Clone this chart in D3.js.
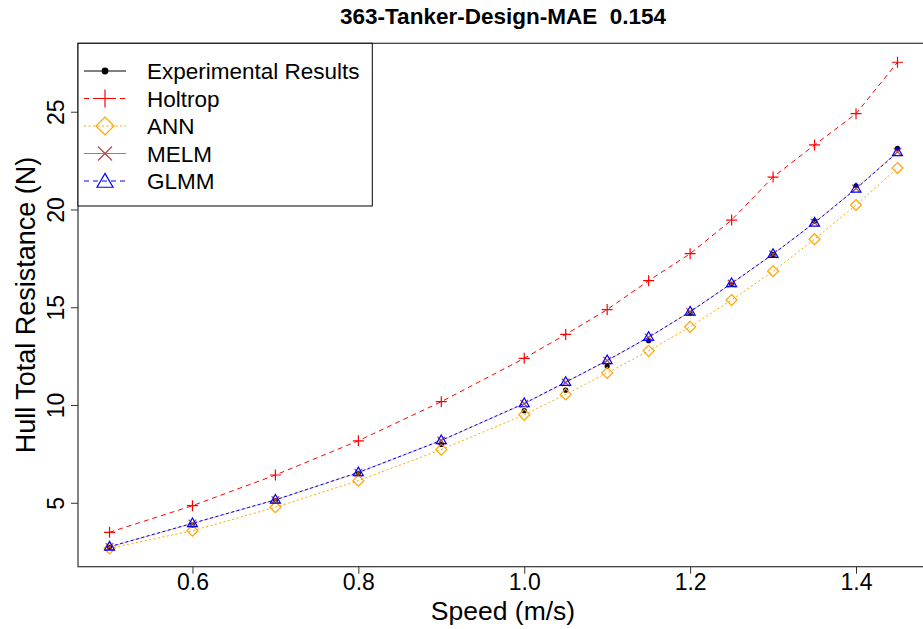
<!DOCTYPE html>
<html>
<head>
<meta charset="utf-8">
<script src="https://cdn.jsdelivr.net/npm/d3@7"></script>
<style>
  html, body { margin: 0; padding: 0; background: #fff; }
  svg { display: block; }
  text { font-family: "Liberation Sans", Arial, sans-serif; fill: #000; }
</style>
</head>
<body>
<svg id="chart" width="923" height="629"></svg>
<script>
const title = "363-Tanker-Design-MAE  0.154";
const xLabel = "Speed (m/s)";
const yLabel = "Hull Total Resistance (N)";

const speed = [0.5, 0.6, 0.7, 0.8, 0.9, 1.0, 1.05, 1.1, 1.15, 1.2, 1.25, 1.3, 1.35, 1.4, 1.45];
const experimental = [2.72, 3.86, 5.10, 6.50, 7.98, 9.71, 10.76, 11.99, 13.29, 14.69, 16.17, 17.70, 19.40, 21.21, 23.13];
const holtrop = [3.49, 4.85, 6.42, 8.17, 10.17, 12.39, 13.61, 14.88, 16.36, 17.74, 19.46, 21.66, 23.30, 24.90, 27.53];
const ann = [2.67, 3.57, 4.77, 6.13, 7.72, 9.50, 10.54, 11.64, 12.77, 14.00, 15.37, 16.84, 18.48, 20.23, 22.12];
const melm = [2.74, 3.94, 5.14, 6.54, 8.18, 10.06, 11.15, 12.27, 13.46, 14.76, 16.21, 17.71, 19.33, 21.08, 22.95];
const glmm = [2.75, 3.95, 5.15, 6.55, 8.19, 10.08, 11.17, 12.28, 13.47, 14.77, 16.22, 17.72, 19.32, 21.06, 22.92];

const xTicks = [0.6, 0.8, 1.0, 1.2, 1.4];
const yTicks = [5, 10, 15, 20, 25];
const seriesNames = ["Experimental Results", "Holtrop", "ANN", "MELM", "GLMM"];

const svg = d3.select("#chart");
const L = 78, T = 43.3, B = 566.7, R = 929;

const x = d3.scaleLinear().domain([0.462, 1.488]).range([L, R]);
const y = d3.scaleLinear().domain([1.73, 28.5]).range([B, T]);

// title
svg.append("text").attr("x", 503).attr("y", 24).attr("text-anchor", "middle")
  .attr("xml:space", "preserve").style("white-space", "pre")
  .style("font-size", "22.5px").style("font-weight", "bold").text(title);

// axes
const xAxis = d3.axisBottom(x).tickValues(xTicks).tickFormat(d3.format(".1f")).tickSize(7).tickPadding(0);
const gx = svg.append("g").attr("transform", `translate(0,${B})`).call(xAxis);
gx.select(".domain").remove();
gx.selectAll(".tick line").attr("stroke", "#333");
gx.selectAll(".tick text").style("font-size", "23px").style("font-family", "'Liberation Sans', Arial, sans-serif").attr("fill", "#000");

const yAxis = d3.axisLeft(y).tickValues(yTicks).tickSize(7).tickPadding(0);
const gy = svg.append("g").attr("transform", `translate(${L},0)`).call(yAxis);
gy.select(".domain").remove();
gy.selectAll(".tick line").attr("stroke", "#333");
gy.selectAll(".tick text")
  .style("font-size", "23px").style("font-family", "'Liberation Sans', Arial, sans-serif").attr("fill", "#000")
  .attr("x", null).attr("dy", null)
  .attr("text-anchor", "middle")
  .attr("transform", "translate(-14,0) rotate(-90)");

// axis titles
svg.append("text").attr("x", 503).attr("y", 620).attr("text-anchor", "middle")
  .style("font-size", "26.5px").text(xLabel);
svg.append("text").attr("transform", `translate(35,${(T + B) / 2}) rotate(-90)`).attr("text-anchor", "middle")
  .style("font-size", "27px").text(yLabel);

// plot box
svg.append("rect").attr("x", L).attr("y", T).attr("width", R - L).attr("height", B - T)
  .attr("fill", "none").attr("stroke", "#333").attr("stroke-width", 1.2);

const pts = arr => speed.map((s, i) => [s, arr[i]]);
const line = d3.line().x(d => x(d[0])).y(d => y(d[1]));

// marker helpers
function plus(g, cx, cy, h, color, w) {
  g.append("path").attr("d", `M${cx - h},${cy}H${cx + h}M${cx},${cy - h}V${cy + h}`)
    .attr("stroke", color).attr("stroke-width", w || 1.2).attr("fill", "none");
}
function cross(g, cx, cy, h, color, w) {
  g.append("path").attr("d", `M${cx - h},${cy - h}L${cx + h},${cy + h}M${cx - h},${cy + h}L${cx + h},${cy - h}`)
    .attr("stroke", color).attr("stroke-width", w || 1.2).attr("fill", "none");
}
function diamond(g, cx, cy, h, color, w) {
  g.append("path").attr("d", `M${cx},${cy - h}L${cx + h},${cy}L${cx},${cy + h}L${cx - h},${cy}Z`)
    .attr("stroke", color).attr("stroke-width", w || 1.2).attr("fill", "none");
}
function triangle(g, cx, cy, s, color, w) {
  const hgt = s * 0.866;
  g.append("path").attr("d", `M${cx},${cy - hgt * 0.62}L${cx + s / 2},${cy + hgt * 0.38}L${cx - s / 2},${cy + hgt * 0.38}Z`)
    .attr("stroke", color).attr("stroke-width", w || 1.2).attr("fill", "none");
}
function dot(g, cx, cy, r, color) {
  g.append("circle").attr("cx", cx).attr("cy", cy).attr("r", r).attr("fill", color);
}

const cRed = "#ff0000", cOrange = "#ffa500", cBrown = "#b04a4a", cBlue = "#0000ff";

const plot = svg.append("g");
// lines
plot.append("path").datum(pts(holtrop)).attr("d", line).attr("fill", "none")
  .attr("stroke", cRed).attr("stroke-width", 1).attr("stroke-dasharray", "5,4");
plot.append("path").datum(pts(ann)).attr("d", line).attr("fill", "none")
  .attr("stroke", cOrange).attr("stroke-width", 1).attr("stroke-dasharray", "2,2.5");
plot.append("path").datum(pts(melm)).attr("d", line).attr("fill", "none")
  .attr("stroke", cBrown).attr("stroke-width", 1).attr("stroke-opacity", 0.4);
plot.append("path").datum(pts(glmm)).attr("d", line).attr("fill", "none")
  .attr("stroke", cBlue).attr("stroke-width", 1).attr("stroke-dasharray", "3,2.5");

// markers
pts(experimental).forEach(d => dot(plot, x(d[0]), y(d[1]), 2.6, "#000"));
pts(holtrop).forEach(d => plus(plot, x(d[0]), y(d[1]), 5.5, cRed));
pts(ann).forEach(d => diamond(plot, x(d[0]), y(d[1]), 5.5, cOrange));
pts(melm).forEach(d => cross(plot, x(d[0]), y(d[1]), 3.8, cBrown));
pts(glmm).forEach(d => triangle(plot, x(d[0]), y(d[1]), 10, cBlue));

// legend
const leg = svg.append("g");
leg.append("rect").attr("x", L).attr("y", T).attr("width", 372.3 - L).attr("height", 206 - T)
  .attr("fill", "#fff").attr("stroke", "#000").attr("stroke-width", 1);
const rowY = [71, 98.5, 126, 153.5, 181];
const legStyles = [
  { color: "#000", dash: null, mark: (g, cx, cy) => dot(g, cx, cy, 3.4, "#000") },
  { color: cRed, dash: "5,4", mark: (g, cx, cy) => plus(g, cx, cy, 9, cRed) },
  { color: cOrange, dash: "2,2.5", mark: (g, cx, cy) => diamond(g, cx, cy, 9, cOrange) },
  { color: cBrown, dash: null, mark: (g, cx, cy) => cross(g, cx, cy, 7, cBrown) },
  { color: cBlue, dash: "5,4", mark: (g, cx, cy) => triangle(g, cx, cy + 1, 16, cBlue) }
];
seriesNames.forEach((name, i) => {
  const cy = rowY[i], st = legStyles[i];
  const ln = leg.append("line").attr("x1", 84).attr("x2", 126).attr("y1", cy).attr("y2", cy)
    .attr("stroke", st.color).attr("stroke-width", 1);
  if (st.dash) ln.attr("stroke-dasharray", st.dash);
  if (i === 3) ln.attr("stroke-opacity", 0.8);
  st.mark(leg, 105, cy);
  leg.append("text").attr("x", 147).attr("y", cy + 8).style("font-size", "22.5px").text(name);
});
</script>
</body>
</html>
